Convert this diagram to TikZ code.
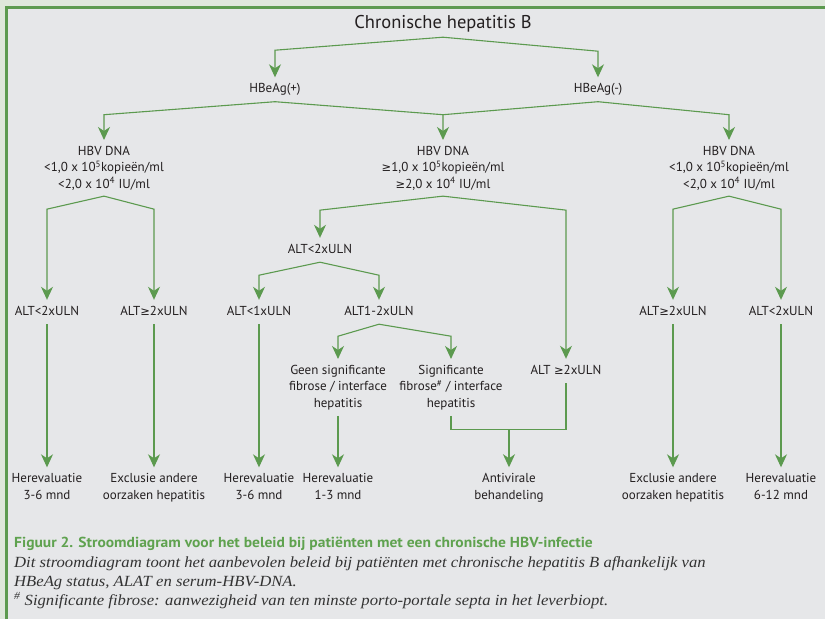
\documentclass[tikz,border=0pt]{standalone}
\usepackage{fontspec}
\setmainfont{PT Sans}
\newfontfamily\capsans[FakeStretch=1.07]{PT Sans}
\newfontfamily\capserif[FakeStretch=1.075]{Liberation Serif}
\newfontfamily\symfont{DejaVu Sans}
\newcommand{\gesym}{{\symfont\fontsize{11.5}{16}\selectfont ≥}}
\usetikzlibrary{arrows.meta}
\definecolor{lgreen}{HTML}{5C9A4F}
\definecolor{panel}{HTML}{E6E7E9}
\definecolor{outerbg}{HTML}{DEE7DB}
\definecolor{capgreen}{HTML}{5FA24F}
\definecolor{txt}{HTML}{231F20}
\definecolor{captxt}{HTML}{333333}
\begin{document}
\begin{tikzpicture}[x=1pt,y=1pt,
  lbl/.style={font=\fontsize{13}{16}\selectfont, text=txt, inner xsep=1pt, inner ysep=6pt, text height=9pt, text depth=3pt, anchor=base},
  mlbl/.style={font=\fontsize{13}{16.3}\selectfont, text=txt, align=center, inner xsep=1pt, inner ysep=6pt, anchor=base},
  conn/.style={draw=lgreen, line width=1.1pt},
  arr/.style={conn, -{Stealth[length=13pt,width=12pt,inset=4pt]}},
  captxtstyle/.style={anchor=base west, inner sep=0pt, text=captxt, font=\capserif\itshape\fontsize{15.5}{19}\selectfont},
]
\useasboundingbox (0,0) rectangle (825,-619);
% background and frame
\fill[outerbg] (0,0) rectangle (825,-619);
\fill[panel] (6.5,-7.5) rectangle (825,-619);
\draw[lgreen, line width=3pt] (6.5,-619) -- (6.5,-7.5) -- (825,-7.5);

% nodes
\node[font=\fontsize{18.5}{20}\selectfont, text=txt, anchor=base, inner xsep=1pt, inner ysep=4pt, text height=13pt, text depth=5pt] (ttl) at (443,-28) {Chronische hepatitis B};
\node[lbl] (pos) at (275,-92.5) {HBeAg(+)};
\node[lbl] (neg) at (598,-92.5) {HBeAg(-)};

\node[mlbl] (dl) at (104,-188) {HBV DNA\\<1,0 x 10\textsuperscript{5}kopieën/ml\\<2,0 x 10\textsuperscript{4} IU/ml};
\node[mlbl] (dm) at (443,-188) {HBV DNA\\\gesym1,0 x 10\textsuperscript{5}kopieën/ml\\\gesym2,0 x 10\textsuperscript{4} IU/ml};
\node[mlbl] (dr) at (729,-188) {HBV DNA\\<1,0 x 10\textsuperscript{5}kopieën/ml\\<2,0 x 10\textsuperscript{4} IU/ml};

\node[lbl] (a1) at (47,-315) {ALT<2xULN};
\node[lbl] (a2) at (154,-315) {ALT\gesym2xULN};
\node[lbl] (b1) at (320,-253) {ALT<2xULN};
\node[lbl] (b2) at (566,-374) {ALT \gesym2xULN};
\node[lbl] (c1) at (259,-315) {ALT<1xULN};
\node[lbl] (c2) at (379,-315) {ALT1-2xULN};
\node[mlbl] (d1) at (338,-407) {Geen significante\\fibrose / interface\\hepatitis};
\node[mlbl] (d2) at (451,-407) {Significante\\fibrose\textsuperscript{\#} / interface\\hepatitis};
\node[lbl] (e1) at (673,-315) {ALT\gesym2xULN};
\node[lbl] (e2) at (781,-315) {ALT<2xULN};

\node[mlbl] (r1) at (47,-499) {Herevaluatie\\3-6 mnd};
\node[mlbl] (r2) at (154,-499) {Exclusie andere\\oorzaken hepatitis};
\node[mlbl] (r3) at (259,-499) {Herevaluatie\\3-6 mnd};
\node[mlbl] (r4) at (338,-499) {Herevaluatie\\1-3 mnd};
\node[mlbl] (r5) at (509,-499) {Antivirale\\behandeling};
\node[mlbl] (r6) at (673,-499) {Exclusie andere\\oorzaken hepatitis};
\node[mlbl] (r7) at (781,-499) {Herevaluatie\\6-12 mnd};

% connectors
\draw[arr] (ttl.south) -- ([yshift=-13pt]ttl.south -| pos.north) -- (pos.north);
\draw[arr] (ttl.south) -- ([yshift=-14pt]ttl.south -| neg.north) -- (neg.north);
\draw[arr] (pos.south) -- ([yshift=-13pt]pos.south -| dl.north) -- (dl.north);
\draw[arr] (pos.south) -- ([yshift=-13pt]pos.south -| dm.north) -- (dm.north);
\draw[conn] (neg.south) -- ([yshift=-13pt]pos.south -| dm.north);
\draw[arr] (neg.south) -- ([yshift=-13pt]neg.south -| dr.north) -- (dr.north);

\draw[arr] (dl.south) -- ([yshift=-13pt]dl.south -| a1.north) -- (a1.north);
\draw[arr] (dl.south) -- ([yshift=-13pt]dl.south -| a2.north) -- (a2.north);
\draw[arr] (a1.south) -- (r1.north);
\draw[arr] (a2.south) -- (r2.north);

\draw[arr] (dm.south) -- ([yshift=-14pt]dm.south -| b1.north) -- (b1.north);
\draw[arr] (dm.south) -- ([yshift=-14pt]dm.south -| b2.north) -- (b2.north);
\draw[arr] (b1.south) -- ([yshift=-13pt]b1.south -| c1.north) -- (c1.north);
\draw[arr] (b1.south) -- ([yshift=-13pt]b1.south -| c2.north) -- (c2.north);
\draw[arr] (c1.south) -- (r3.north);
\draw[arr] (c2.south) -- ([yshift=-12pt]c2.south -| d1.north) -- (d1.north);
\draw[arr] (c2.south) -- ([yshift=-12pt]c2.south -| d2.north) -- (d2.north);
\draw[arr] (d1.south) -- (r4.north);
\coordinate (j) at ([yshift=-14pt]d2.south -| r5.north);
\draw[conn] (d2.south) |- (j);
\draw[conn] (b2.south) |- (j);
\draw[arr] (j) -- (r5.north);

\draw[arr] (dr.south) -- ([yshift=-13pt]dr.south -| e1.north) -- (e1.north);
\draw[arr] (dr.south) -- ([yshift=-13pt]dr.south -| e2.north) -- (e2.north);
\draw[arr] (e1.south) -- (r6.north);
\draw[arr] (e2.south) -- (r7.north);

% caption
\node[anchor=base west, inner sep=0pt, text=capgreen, font=\capsans\bfseries\fontsize{14.5}{19}\selectfont] (cap1) at (14,-547) {Figuur 2. Stroomdiagram voor het beleid bij patiënten met een chronische HBV-infectie};
\node[captxtstyle] (cap2) at (14,-567) {Dit stroomdiagram toont het aanbevolen beleid bij patiënten met chronische hepatitis B afhankelijk van};
\node[captxtstyle] (cap3) at (14,-586) {HBeAg status, ALAT en serum-HBV-DNA.};
\node[captxtstyle] (cap4) at (14,-605) {\textsuperscript{\#} Significante fibrose: aanwezigheid van ten minste porto-portale septa in het leverbiopt.};
\end{tikzpicture}
\end{document}
